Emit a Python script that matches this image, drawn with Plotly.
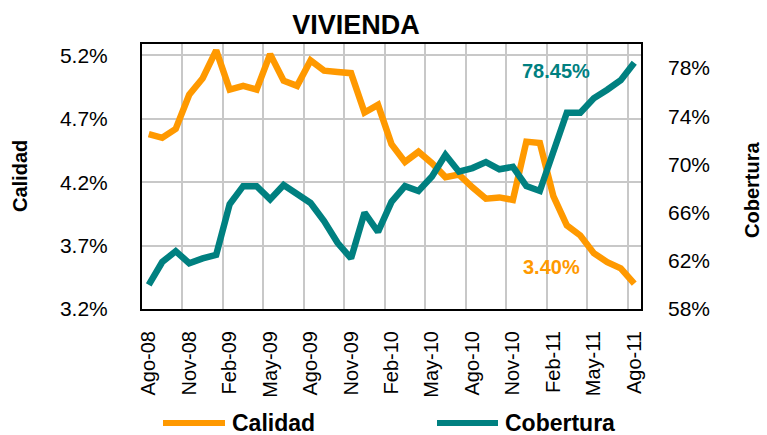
import plotly.graph_objects as go

# ---------------- data ----------------
months = ["Ago-08", "Sep-08", "Oct-08", "Nov-08", "Dic-08", "Ene-09", "Feb-09", "Mar-09",
          "Abr-09", "May-09", "Jun-09", "Jul-09", "Ago-09", "Sep-09", "Oct-09", "Nov-09",
          "Dic-09", "Ene-10", "Feb-10", "Mar-10", "Abr-10", "May-10", "Jun-10", "Jul-10",
          "Ago-10", "Sep-10", "Oct-10", "Nov-10", "Dic-10", "Ene-11", "Feb-11", "Mar-11",
          "Abr-11", "May-11", "Jun-11", "Jul-11", "Ago-11"]

calidad = [4.58, 4.55, 4.62, 4.89, 5.02, 5.24, 4.93, 4.96, 4.93, 5.21, 5.00, 4.96,
           5.16, 5.08, 5.07, 5.06, 4.75, 4.81, 4.50, 4.36, 4.44, 4.35, 4.24, 4.26,
           4.16, 4.07, 4.08, 4.06, 4.52, 4.51, 4.09, 3.86, 3.78, 3.64, 3.57, 3.52, 3.40]

cobertura = [60.0, 61.9, 62.8, 61.8, 62.2, 62.5, 66.7, 68.2, 68.2, 67.1, 68.3, 67.6,
             66.8, 65.3, 63.5, 62.2, 66.0, 64.4, 66.9, 68.2, 67.8, 69.0, 70.8, 69.4,
             69.7, 70.2, 69.6, 69.8, 68.2, 67.8, 71.2, 74.3, 74.3, 75.5, 76.2, 77.0, 78.45]

left_ticks = [3.2, 3.7, 4.2, 4.7, 5.2]
right_ticks = [58, 62, 66, 70, 74, 78]

ORANGE = "#FF9900"
TEAL = "#008080"
FONT = "Liberation Sans, Arial, sans-serif"

W, H = 767, 435
L, R, T, B = 142, 641, 44, 309  # plot area in pixels


def px_x(px):
    return (px - L) / (R - L)


def px_y(py):
    return (B - py) / (B - T)


idx = list(range(len(months)))
tick_idx = idx[::3]
tick_txt = months[::3]
minor_grid = [i + 2.5 for i in range(0, len(months) - 1, 3)]

fig = go.Figure()
fig.add_trace(go.Scatter(x=idx, y=calidad, name="Calidad", mode="lines",
                         line=dict(color=ORANGE, width=6.5), yaxis="y"))
fig.add_trace(go.Scatter(x=idx, y=cobertura, name="Cobertura", mode="lines",
                         line=dict(color=TEAL, width=6.5), yaxis="y2"))

fig.update_layout(
    width=W, height=H,
    margin=dict(l=L, r=W - R, t=T, b=H - B, pad=0),
    paper_bgcolor="white", plot_bgcolor="white",
    showlegend=False,
    font=dict(family=FONT, color="black"),
    title=dict(text="<b>VIVIENDA</b>", x=356 / W, xref="container", xanchor="center",
               y=1 - 25 / H, yref="container", yanchor="middle",
               font=dict(size=27, family=FONT, color="black")),
    xaxis=dict(range=[-0.5, len(months) - 0.5], tickmode="array", tickvals=tick_idx,
               ticktext=tick_txt, tickangle=-90, showgrid=False, zeroline=False,
               showline=True, mirror=True, linecolor="black", linewidth=2,
               ticks="", ticklabelstandoff=12,
               tickfont=dict(size=20, family=FONT, color="black"),
               minor=dict(tickmode="array", tickvals=minor_grid, showgrid=True,
                          gridcolor="#C8C8C8", gridwidth=2, ticks="")),
    yaxis=dict(range=[3.2, 5.29], tickmode="array", tickvals=left_ticks,
               ticktext=[f"{v:.1f}%" for v in left_ticks],
               showgrid=True, gridcolor="#C8C8C8",
               gridwidth=2, zeroline=False, showline=True, mirror=True,
               linecolor="black", linewidth=2, ticks="", ticklabelstandoff=28,
               tickfont=dict(size=21, family=FONT, color="black")),
    yaxis2=dict(range=[58, 80], overlaying="y", side="right", tickmode="array",
                tickvals=right_ticks, ticktext=[f"{v}%" for v in right_ticks],
                showgrid=False, zeroline=False, showline=False, ticks="",
                ticklabelstandoff=26,
                tickfont=dict(size=21, family=FONT, color="black")),
)

# axis titles
fig.add_annotation(text="<b>Calidad</b>", x=px_x(20), y=px_y(176), xref="paper", yref="paper",
                   textangle=-90, showarrow=False, xanchor="center", yanchor="middle",
                   font=dict(size=20, family=FONT, color="black"))
fig.add_annotation(text="<b>Cobertura</b>", x=px_x(752), y=px_y(190), xref="paper", yref="paper",
                   textangle=-90, showarrow=False, xanchor="center", yanchor="middle",
                   font=dict(size=20, family=FONT, color="black"))

# end-value labels
last = len(months) - 1
fig.add_annotation(text=f"<b>{cobertura[-1]:.2f}%</b>", x=last, y=cobertura[-1], xref="x", yref="y2",
                   showarrow=False, xanchor="center", yanchor="middle", xshift=-78, yshift=-8,
                   font=dict(size=20, family=FONT, color=TEAL))
fig.add_annotation(text=f"<b>{calidad[-1]:.2f}%</b>", x=last, y=calidad[-1], xref="x", yref="y",
                   showarrow=False, xanchor="center", yanchor="middle", xshift=-83, yshift=17,
                   font=dict(size=20, family=FONT, color=ORANGE))

# custom legend
legend_items = [("Calidad", ORANGE, 163, 225), ("Cobertura", TEAL, 437, 498)]
for name, color, x0, x1 in legend_items:
    fig.add_shape(type="line", xref="paper", yref="paper",
                  x0=px_x(x0), x1=px_x(x1), y0=px_y(423), y1=px_y(423),
                  line=dict(color=color, width=6))
    fig.add_annotation(text=f"<b>{name}</b>", x=px_x(x1 + 5), y=px_y(423), xref="paper", yref="paper",
                       showarrow=False, xanchor="left", yanchor="middle",
                       font=dict(size=23, family=FONT, color="black"))

fig.write_html("out.html", config={"displayModeBar": False},
               post_script="document.body.style.margin='0px';")
